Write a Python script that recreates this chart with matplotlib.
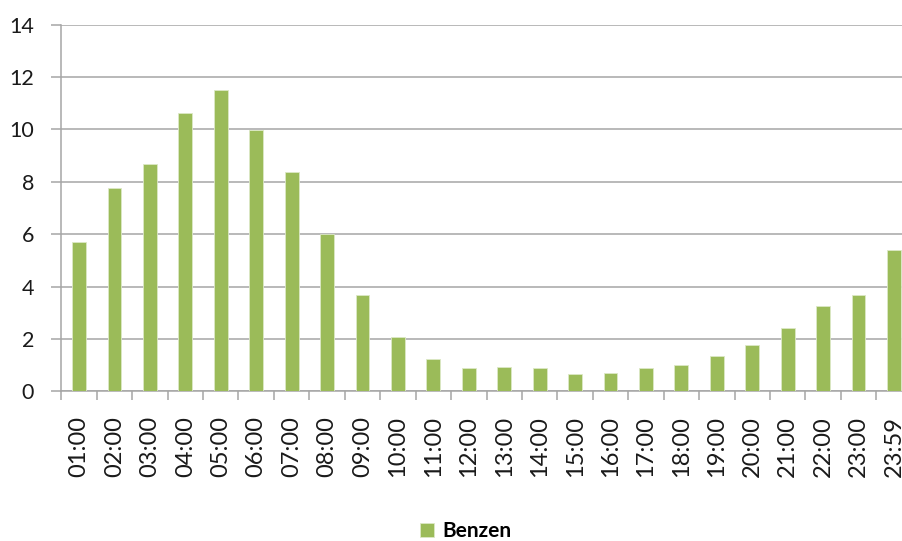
import matplotlib
matplotlib.use("Agg")
import matplotlib.pyplot as plt
import numpy as np

hours = ["01:00", "02:00", "03:00", "04:00", "05:00", "06:00", "07:00", "08:00",
         "09:00", "10:00", "11:00", "12:00", "13:00", "14:00", "15:00", "16:00",
         "17:00", "18:00", "19:00", "20:00", "21:00", "22:00", "23:00", "23:59"]
benzen = [5.7, 7.78, 8.67, 10.62, 11.51, 9.97, 8.38, 6.0,
          3.67, 2.06, 1.23, 0.89, 0.94, 0.89, 0.65, 0.69,
          0.89, 0.99, 1.34, 1.77, 2.40, 3.24, 3.67, 5.39]
series_name = "Benzen"
yticks = [0, 2, 4, 6, 8, 10, 12, 14]

plt.rcParams['font.family'] = ['Lato', 'DejaVu Sans']

W, H = 902, 541
fig = plt.figure(figsize=(W / 100, H / 100), dpi=100)
left, right = 61.3 / W, 911.7 / W
bottom, top = 1 - 391.3 / H, 1 - 24.7 / H
ax = fig.add_axes([left, bottom, right - left, top - bottom])

grid_col = '#A6A6A6'
bar_col = '#9BBB59'
x = np.arange(len(hours))
ax.bar(x, benzen, width=0.39, color=bar_col, edgecolor='#DCE8C6', linewidth=0.6, zorder=3,
       label=series_name)

ax.set_xlim(-0.5, len(hours) - 0.5)
ax.set_ylim(0, 14)
ax.set_yticks(yticks)
ax.set_yticklabels([str(v) for v in yticks])
ax.yaxis.grid(True, color=grid_col, linewidth=1.1, zorder=0)
ax.set_axisbelow(True)

ax.set_xticks(x)
ax.set_xticklabels(hours, rotation=90, fontsize=17, color='#1a1a1a')
ax.set_xticks(np.arange(-0.5, len(hours)), minor=True)
ax.tick_params(axis='x', which='major', length=0, pad=18)
ax.tick_params(axis='x', which='minor', length=6.6, width=1.1, color=grid_col, direction='out')
ax.tick_params(axis='y', which='major', length=7, width=1.1, color=grid_col, pad=12.5,
               labelsize=15.5, labelcolor='#1a1a1a')

for s in ['top', 'right']:
    ax.spines[s].set_visible(False)
for s in ['left', 'bottom']:
    ax.spines[s].set_color(grid_col)
    ax.spines[s].set_linewidth(1.1)

handles, labels = ax.get_legend_handles_labels()
leg = fig.legend(handles, labels, loc='center', bbox_to_anchor=(466 / W, 1 - 531 / H),
                 frameon=False, prop={'weight': 'bold', 'size': 15},
                 handlelength=0.67, handleheight=0.67, handletextpad=0.4)

fig.savefig('out.png', dpi=100)
